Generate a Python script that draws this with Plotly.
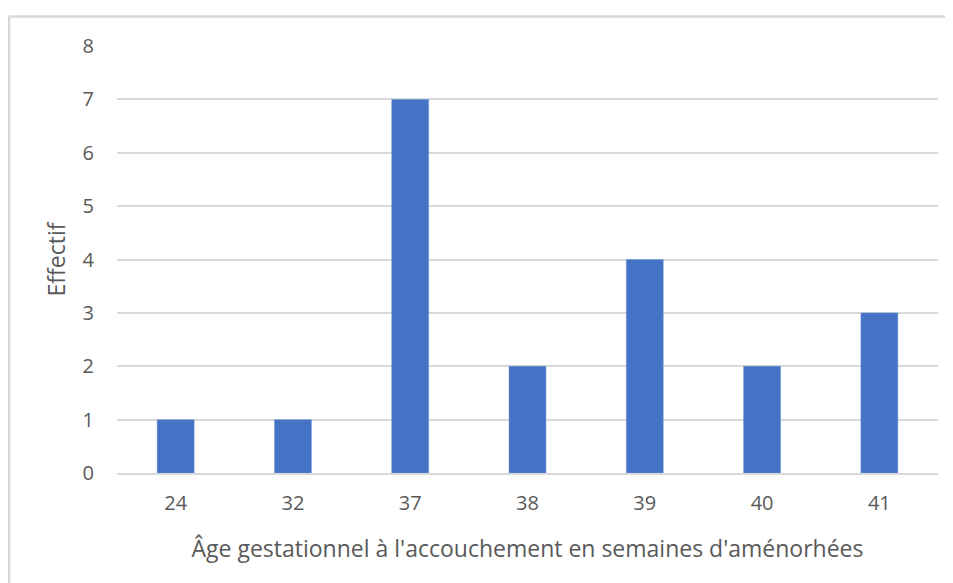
import plotly.graph_objects as go

weeks = ["24", "32", "37", "38", "39", "40", "41"]
counts = [1, 1, 7, 2, 4, 2, 3]
y_ticks = list(range(0, 9))

BLUE = "#4472C4"
GRID = "#d9d9d9"
TEXT = "#595959"
FONT = "Open Sans, Liberation Sans, sans-serif"

fig = go.Figure()
fig.add_trace(go.Bar(
    x=weeks, y=counts,
    width=0.315,
    marker=dict(color=BLUE, line=dict(color="#6f92d4", width=0.5)),
    hovertemplate="%{x} SA : %{y}<extra></extra>",
))

# chart border (only top and left visible in the original crop)
fig.add_shape(type="line", xref="paper", yref="paper", x0=-0.1315, x1=1.05,
              y0=1.069, y1=1.069, line=dict(color=GRID, width=2.5), layer="below")
fig.add_shape(type="line", xref="paper", yref="paper", x0=-0.1315, x1=-0.1315,
              y0=1.069, y1=-0.3, line=dict(color=GRID, width=2.5), layer="below")

fig.update_layout(
    width=953, height=583,
    margin=dict(l=109, r=23, t=38, b=118),
    plot_bgcolor="white", paper_bgcolor="white",
    font=dict(family=FONT, color=TEXT, size=20),
    showlegend=False,
    bargap=0.685,
    xaxis=dict(
        title=dict(text="Âge gestationnel à l'accouchement en semaines d'aménorhées",
                   font=dict(size=23, color=TEXT), standoff=26),
        showgrid=False, showline=True, linecolor=GRID, linewidth=1.5,
        ticks="", tickfont=dict(size=20, color=TEXT), ticklabelstandoff=11,
    ),
    yaxis=dict(
        title=dict(text="Effectif", font=dict(size=23, color=TEXT), standoff=10),
        range=[0, 8], tickvals=y_ticks, showgrid=True, gridcolor=GRID, gridwidth=1.5,
        zeroline=False, ticks="", tickfont=dict(size=20, color=TEXT), ticklabelstandoff=22,
        fixedrange=True,
    ),
)

fig.write_html("out.html")
